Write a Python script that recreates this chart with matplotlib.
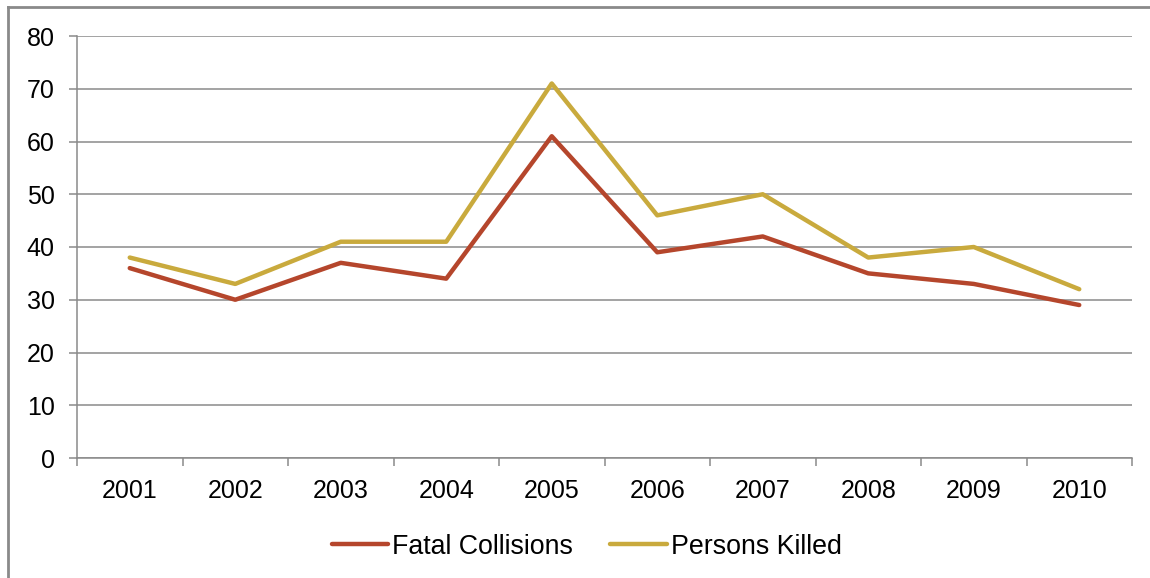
import matplotlib.pyplot as plt
from matplotlib.lines import Line2D
import numpy as np

plt.rcParams['font.family'] = ['Liberation Sans', 'DejaVu Sans']

years = ["2001", "2002", "2003", "2004", "2005", "2006", "2007", "2008", "2009", "2010"]
fatal = [36, 30, 37, 34, 61, 39, 42, 35, 33, 29]
killed = [38, 33, 41, 41, 71, 46, 50, 38, 40, 32]

red = "#B5462C"
gold = "#C9AA3D"
grey = "#8A8A8A"

fig = plt.figure(figsize=(11.5, 5.78), dpi=100)
ax = fig.add_axes([77/1150, 1-458/578, (1132-77)/1150, (458-36)/578])

x = np.arange(len(years))
ax.plot(x, fatal, color=red, lw=3.2, label="Fatal Collisions",
        solid_capstyle='round', solid_joinstyle='round')
ax.plot(x, killed, color=gold, lw=3.2, label="Persons Killed",
        solid_capstyle='round', solid_joinstyle='round')

ax.set_xlim(-0.5, len(years) - 0.5)
ax.set_ylim(0, 80)
ax.set_yticks(range(0, 81, 10))
ax.yaxis.grid(True, color=grey, lw=1.1)
ax.set_axisbelow(True)

# category axis: ticks between categories, labels centred
ax.set_xticks(np.arange(-0.5, len(years), 1))
ax.set_xticklabels([])
ax.set_xticks(x, minor=True)
ax.set_xticklabels(years, minor=True)
ax.tick_params(axis='x', which='minor', length=0, pad=15, labelsize=18)
ax.tick_params(axis='x', which='major', length=6, color=grey, width=1.1)
ax.tick_params(axis='y', length=6, color=grey, width=1.1, pad=10, labelsize=18)

for s in ["top", "right"]:
    ax.spines[s].set_visible(False)
for s in ["left", "bottom"]:
    ax.spines[s].set_color(grey)
    ax.spines[s].set_linewidth(1.1)

ax.legend(loc="center", bbox_to_anchor=(0.483, -0.21), ncol=2, frameon=False,
          fontsize=19.3, handlelength=2.1, handletextpad=0.15, columnspacing=1.4)

# outer frame of the original slide
fig.add_artist(Line2D([8/1150, 8/1150], [0, 1-7/578], transform=fig.transFigure, color=grey, lw=2))
fig.add_artist(Line2D([8/1150, 1], [1-7/578, 1-7/578], transform=fig.transFigure, color=grey, lw=2))

fig.savefig("out.png", dpi=100)
